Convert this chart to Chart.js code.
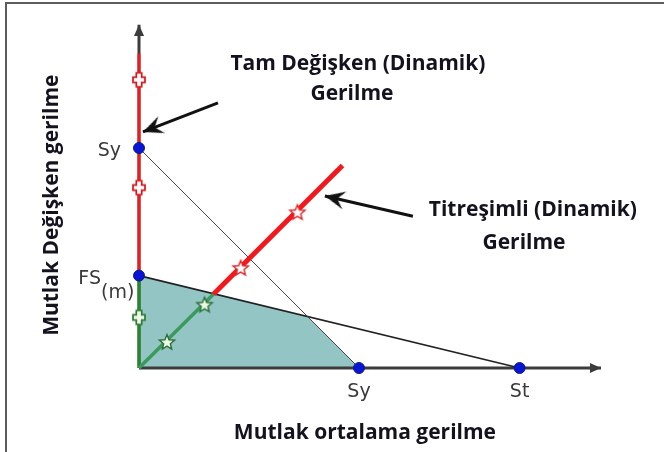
<!DOCTYPE html>
<html>
<head>
<meta charset="utf-8">
<script src="https://cdn.jsdelivr.net/npm/chart.js@4.4.1/dist/chart.umd.min.js"></script>
<style>
    html, body { margin: 0; padding: 0; background: #fff; overflow: hidden; }
    #wrap { position: relative; width: 664px; height: 452px; }
    #frame { position: absolute; left: 5px; top: 2px; width: 700px; height: 500px;
             border-left: 2px solid #5c5c5c; border-top: 2px solid #5c5c5c; }
    canvas { position: absolute; left: 0; top: 0; }
</style>
</head>
<body>
<div id="wrap">
    <div id="frame"></div>
    <canvas id="diagram" width="664" height="452"></canvas>
</div>
<script>
// stress units, origin = corner of the two axes
const xStops = [10, 17.3];            // Sy, St on the mean stress axis
const xStopLabels = ["Sy", "St"];
const yStops = [10, 4.2];             // Sy, FS(m) on the alternating stress axis
const yStopLabels = ["Sy", "FS"];

const axisX = [[0, 0], [21.0, 0]];
const axisY = [[0, 0], [0, 15.6]];

const fullRed = [[0, 4.2], [0, 14.3]];
const fullGreen = [[0, 0], [0, 4.2]];
const fullRedPlus = [[0, 13.1], [0, 8.2]];
const fullGreenPlus = [[0, 2.3]];

const pulseGreen = [[0, 0], [3.38, 3.35]];
const pulseRed = [[3.38, 3.35], [9.25, 9.2]];
const pulseGreenStars = [[1.27, 1.18], [2.98, 2.88]];
const pulseRedStars = [[4.62, 4.55], [7.2, 7.08]];

const yieldLine = [[0, 10], [10, 0]];
const goodmanLine = [[0, 4.2], [17.3, 0]];
const safeZone = [[0, 4.2], [7.66, 2.34], [10, 0]];
const keyPoints = [[0, 10], [0, 4.2], [10, 0], [17.3, 0]];

const arrowFull = [[3.59, 12.05], [0.18, 10.73]];
const arrowPulse = [[12.45, 6.9], [8.45, 7.82]];

const notes = [
    { text: "Tam Değişken (Dinamik)", x: 9.95, y: 13.82 },
    { text: "Gerilme", x: 9.68, y: 12.45 },
    { text: "Titreşimli (Dinamik)", x: 17.9, y: 7.18 },
    { text: "Gerilme", x: 17.5, y: 5.68 }
];

const pts = arr => arr.map(([x, y]) => ({ x: x, y: y }));

function arrowHead(len, half, notch, color) {
    const c = document.createElement("canvas");
    c.width = half * 2 + 2;
    c.height = len * 2;
    const g = c.getContext("2d");
    const cx = c.width / 2;
    g.fillStyle = color;
    g.beginPath();
    g.moveTo(cx, len);
    g.lineTo(cx + half, len * 2);
    g.lineTo(cx, len + len * notch);
    g.lineTo(cx - half, len * 2);
    g.closePath();
    g.fill();
    return c;
}

function plusMark(stroke, fill) {
    const c = document.createElement("canvas");
    c.width = 18; c.height = 20;
    const g = c.getContext("2d");
    const m = 9, n = 10, a = 2.7, bx = 6, by = 7;
    g.beginPath();
    g.moveTo(m - a, n - by); g.lineTo(m + a, n - by); g.lineTo(m + a, n - a);
    g.lineTo(m + bx, n - a); g.lineTo(m + bx, n + a); g.lineTo(m + a, n + a);
    g.lineTo(m + a, n + by); g.lineTo(m - a, n + by); g.lineTo(m - a, n + a);
    g.lineTo(m - bx, n + a); g.lineTo(m - bx, n - a); g.lineTo(m - a, n - a);
    g.closePath();
    g.fillStyle = fill; g.fill();
    g.lineWidth = 1.7; g.strokeStyle = stroke; g.stroke();
    return c;
}

function starMark(stroke, fill) {
    const c = document.createElement("canvas");
    c.width = 20; c.height = 20;
    const g = c.getContext("2d");
    g.beginPath();
    for (let i = 0; i < 10; i++) {
        const r = i % 2 ? 3.5 : 8;
        const ang = -Math.PI / 2 + i * Math.PI / 5;
        const px = 10 + r * Math.cos(ang), py = 10.6 + r * Math.sin(ang);
        i ? g.lineTo(px, py) : g.moveTo(px, py);
    }
    g.closePath();
    g.fillStyle = fill; g.fill();
    g.lineWidth = 1.4; g.strokeStyle = stroke; g.stroke();
    return c;
}

// rotation of the last point so that an arrow image points along the segment
function tipRotation(ctx) {
    const d = ctx.dataset.data;
    const n = d.length;
    const sx = ctx.chart.scales.x, sy = ctx.chart.scales.y;
    const dx = sx.getPixelForValue(d[n - 1].x) - sx.getPixelForValue(d[n - 2].x);
    const dy = sy.getPixelForValue(d[n - 1].y) - sy.getPixelForValue(d[n - 2].y);
    return Math.atan2(dx, -dy) * 180 / Math.PI;
}

function arrowLine(data, color, width, head, order) {
    return {
        data: pts(data),
        showLine: true,
        borderColor: color,
        borderWidth: width,
        pointRadius: ctx => ctx.dataIndex === data.length - 1 ? 4 : 0,
        pointStyle: head,
        rotation: tipRotation,
        clip: false,
        order: order
    };
}

function plainLine(data, color, width, order) {
    return { data: pts(data), showLine: true, borderColor: color, borderWidth: width,
             pointRadius: 0, clip: false, order: order };
}

function markers(data, img, order) {
    return { data: pts(data), showLine: false, pointStyle: img, pointRadius: 6,
             clip: false, order: order };
}

const boldFont = "bold 21px 'Open Sans'";
const textColor = "#15121f";

const notesPlugin = {
    id: "notes",
    afterDatasetsDraw(chart) {
        const { ctx, scales: { x, y } } = chart;
        ctx.save();
        ctx.fillStyle = textColor;
        ctx.font = boldFont;
        ctx.textAlign = "center";
        ctx.textBaseline = "middle";
        notes.forEach(n => ctx.fillText(n.text, x.getPixelForValue(n.x), y.getPixelForValue(n.y)));

        // axis names
        ctx.fillText("Mutlak ortalama gerilme", x.getPixelForValue(10.27), y.getPixelForValue(-2.95));
        ctx.save();
        ctx.translate(x.getPixelForValue(-3.95), y.getPixelForValue(7.4));
        ctx.rotate(-Math.PI / 2);
        ctx.fillText("Mutlak Değişken gerilme", 0, 0);
        ctx.restore();

        // stop labels
        ctx.fillStyle = "#3a3a3a";
        ctx.font = "19px 'DejaVu Sans'";
        const x0 = x.getPixelForValue(0), y0 = y.getPixelForValue(0);
        xStops.forEach((v, i) => ctx.fillText(xStopLabels[i], x.getPixelForValue(v), y0 + 24));
        ctx.textAlign = "right";
        yStops.forEach((v, i) => ctx.fillText(yStopLabels[i], x0 - (i ? 38 : 18), y.getPixelForValue(v) + 3));
        ctx.textAlign = "left";
        ctx.fillText("(m)", x0 - 38, y.getPixelForValue(yStops[1]) + 17);
        ctx.restore();
    }
};

const unit = 22;
const axisHead = arrowHead(11, 5, 1, "#3c3c3c");
const noteHead = arrowHead(20, 9, 0.62, "#111");
const red = "#f2181c";

new Chart(document.getElementById("diagram"), {
    type: "scatter",
    data: {
        datasets: [
            { data: pts(safeZone), showLine: true, fill: "origin", backgroundColor: "#93c5c5",
              borderWidth: 0, pointRadius: 0, clip: false, order: 20 },
            arrowLine(axisX, "#3c3c3c", 3, axisHead, 19),
            arrowLine(axisY, "#3c3c3c", 3, axisHead, 19),
            plainLine(yieldLine, "#464646", 1, 18),
            plainLine(goodmanLine, "#222", 1.6, 18),
            plainLine(fullRed, red, 3, 17),
            plainLine(fullGreen, "#25862a", 3, 17),
            plainLine(pulseGreen, "#3a9a5c", 3.5, 16),
            plainLine(pulseRed, red, 5, 16),
            markers(fullRedPlus, plusMark("#d8141c", "#fff"), 15),
            markers(fullGreenPlus, plusMark("#2c7a34", "#f2fbe8"), 15),
            markers(pulseGreenStars, starMark("#2a6e38", "#eefbe4"), 15),
            markers(pulseRedStars, starMark("#e0262a", "#fff"), 15),
            { data: pts(keyPoints), showLine: false, pointRadius: 5.5, pointBackgroundColor: "#0814d6",
              pointBorderColor: "#101c80", pointBorderWidth: 1, clip: false, order: 14 },
            arrowLine(arrowFull, "#111", 3, noteHead, 13),
            arrowLine(arrowPulse, "#111", 3, noteHead, 13)
        ]
    },
    options: {
        responsive: false,
        animation: false,
        events: [],
        layout: { padding: 0, autoPadding: false },
        plugins: { legend: { display: false }, tooltip: { enabled: false } },
        scales: {
            x: { type: "linear", display: false, min: -139 / unit, max: (664 - 139) / unit },
            y: { type: "linear", display: false, min: -(452 - 368) / unit, max: 368 / unit }
        }
    },
    plugins: [notesPlugin]
});
</script>
</body>
</html>
